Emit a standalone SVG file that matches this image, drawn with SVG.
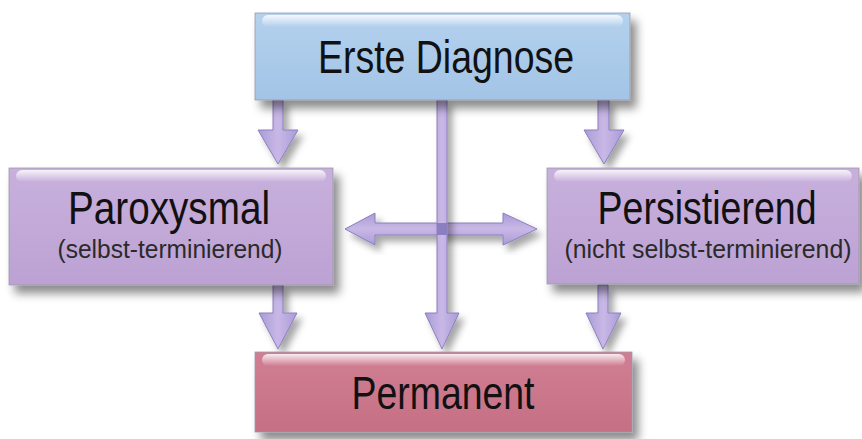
<svg xmlns="http://www.w3.org/2000/svg" width="862" height="439" viewBox="0 0 862 439">
<defs>
<filter id="sh" x="-10%" y="-20%" width="125%" height="150%">
<feDropShadow dx="6" dy="8" stdDeviation="5" flood-color="#000" flood-opacity="0.45"/>
</filter>
<filter id="ash" x="-30%" y="-30%" width="160%" height="160%">
<feDropShadow dx="5" dy="6" stdDeviation="3.5" flood-color="#000" flood-opacity="0.35"/>
</filter>
<linearGradient id="gBlue" x1="0" y1="0" x2="0" y2="1">
<stop offset="0" stop-color="#b4d1ee"/>
<stop offset="1" stop-color="#a3c4e6"/>
</linearGradient>
<linearGradient id="gPurple" x1="0" y1="0" x2="0" y2="1">
<stop offset="0" stop-color="#c8b0dd"/>
<stop offset="1" stop-color="#bca2d3"/>
</linearGradient>
<linearGradient id="gPink" x1="0" y1="0" x2="0" y2="1">
<stop offset="0" stop-color="#d07f93"/>
<stop offset="1" stop-color="#c66f85"/>
</linearGradient>
<linearGradient id="gloss" x1="0" y1="0" x2="0" y2="1">
<stop offset="0" stop-color="#fff" stop-opacity="0.85"/>
<stop offset="1" stop-color="#fff" stop-opacity="0"/>
</linearGradient>
<linearGradient id="gArrowV" x1="0" y1="0" x2="1" y2="0">
<stop offset="0" stop-color="#a99bd6"/>
<stop offset="0.5" stop-color="#c9b8e6"/>
<stop offset="1" stop-color="#a99bd6"/>
</linearGradient>
<linearGradient id="gArrowH" x1="0" y1="0" x2="0" y2="1">
<stop offset="0" stop-color="#a99bd6"/>
<stop offset="0.5" stop-color="#c9b8e6"/>
<stop offset="1" stop-color="#a99bd6"/>
</linearGradient>
</defs>
<style>
.box{stroke:#9a9aa8;stroke-width:0.8;filter:url(#sh)}
.gl{fill:url(#gloss)}
.t{font-family:"Liberation Sans","Arial",sans-serif;fill:#111;text-anchor:middle}
.big{font-size:46px}
.small{font-size:25px;fill:#2a2a2a}
.av{fill:url(#gArrowV);stroke:#8b7fbf;stroke-width:1;filter:url(#ash)}
.ah{fill:url(#gArrowH);stroke:#8b7fbf;stroke-width:1;filter:url(#ash)}
</style>
<rect width="862" height="439" fill="#fff"/>

<g id="connectors">
<path class="av" d="M273,100 L283,100 L283,130 L298,130 L278,164 L258,130 L273,130 Z"/>
<path class="av" d="M598,100 L609,100 L609,130 L624,130 L604,164 L584,130 L598,130 Z"/>
<path class="av" d="M273,285 L283,285 L283,313 L297,313 L278,349 L259,313 L273,313 Z"/>
<path class="av" d="M598,285 L608,285 L608,313 L621,313 L603,349 L586,313 L598,313 Z"/>
<path class="ah" d="M345,229 L375,213 L375,223 L503,223 L503,213 L537,229 L503,245 L503,235 L375,235 L375,245 Z"/>
<path class="av" d="M437,100 L447,100 L447,313 L459,313 L442,349 L425,313 L437,313 Z"/>
<rect x="437" y="223" width="10" height="12" fill="#8c7fc0"/>
</g>

<g id="erste-diagnose">
<rect class="box" x="255" y="13" width="375" height="87" fill="url(#gBlue)"/>
<rect class="gl" x="262" y="15" width="361" height="12" rx="6"/>
<text class="t big" x="446" y="73" textLength="256" lengthAdjust="spacingAndGlyphs">Erste Diagnose</text>
</g>

<g id="paroxysmal">
<rect class="box" x="9" y="168" width="324" height="117" fill="url(#gPurple)"/>
<rect class="gl" x="16" y="170" width="310" height="12" rx="6"/>
<text class="t big" x="169" y="224" textLength="202" lengthAdjust="spacingAndGlyphs">Paroxysmal</text>
<text class="t small" x="170" y="258" textLength="225" lengthAdjust="spacingAndGlyphs">(selbst-terminierend)</text>
</g>

<g id="persistierend">
<rect class="box" x="547" y="168" width="312" height="116" fill="url(#gPurple)"/>
<rect class="gl" x="554" y="170" width="298" height="12" rx="6"/>
<text class="t big" x="707" y="224" textLength="219" lengthAdjust="spacingAndGlyphs">Persistierend</text>
<text class="t small" x="708" y="258" textLength="287" lengthAdjust="spacingAndGlyphs">(nicht selbst-terminierend)</text>
</g>

<g id="permanent">
<rect class="box" x="255" y="352" width="377" height="80" fill="url(#gPink)"/>
<rect class="gl" x="262" y="354" width="363" height="12" rx="6"/>
<text class="t big" x="443" y="409" textLength="183" lengthAdjust="spacingAndGlyphs">Permanent</text>
</g>
</svg>
